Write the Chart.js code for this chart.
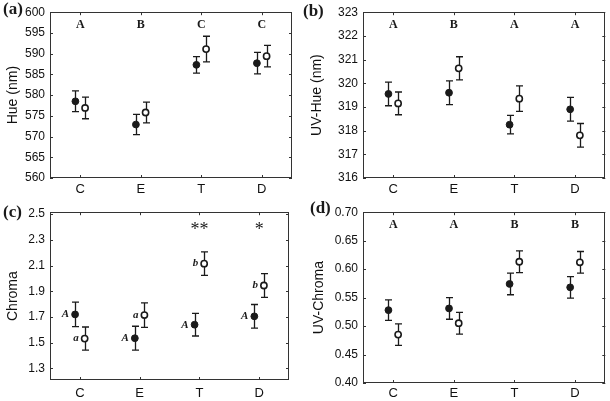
<!DOCTYPE html>
<html>
<head>
<meta charset="utf-8">
<script src="https://cdn.jsdelivr.net/npm/chart.js@4.4.0/dist/chart.umd.min.js"></script>
<style>
  html, body { margin: 0; padding: 0; background: #fff; }
  #wrap { position: relative; width: 610px; height: 401px; overflow: hidden; }
  canvas { position: absolute; }
</style>
</head>
<body>
<div id="wrap">
  <canvas id="chartA" width="305" height="200" style="left:0;top:0"></canvas>
  <canvas id="chartB" width="310" height="200" style="left:300px;top:0"></canvas>
  <canvas id="chartC" width="305" height="201" style="left:0;top:200px"></canvas>
  <canvas id="chartD" width="310" height="201" style="left:300px;top:200px"></canvas>
</div>
<script>
// --- Data ---
const groups = ['C', 'E', 'T', 'D'];

// (a) Hue
const hueFilled = [578.5, 572.9, 587.3, 587.7];
const hueFilledErr = [2.5, 2.45, 2.0, 2.6];
const hueOpen = [576.9, 575.8, 591.1, 589.4];
const hueOpenErr = [2.6, 2.5, 3.1, 2.6];
const hueLetters = ['A', 'B', 'C', 'C'];
const hueTicks = [560, 565, 570, 575, 580, 585, 590, 595, 600];

// (b) UV-Hue
const uvHueFilled = [319.55, 319.6, 318.25, 318.9];
const uvHueFilledErr = [0.5, 0.5, 0.39, 0.5];
const uvHueOpen = [319.15, 320.63, 319.35, 317.8];
const uvHueOpenErr = [0.48, 0.49, 0.54, 0.5];
const uvHueLetters = ['A', 'B', 'A', 'A'];
const uvHueTicks = [316, 317, 318, 319, 320, 321, 322, 323];

// (c) Chroma
const chromaFilled = [1.72, 1.535, 1.64, 1.705];
const chromaFilledErr = [0.095, 0.093, 0.088, 0.092];
const chromaOpen = [1.532, 1.715, 2.115, 1.945];
const chromaOpenErr = [0.09, 0.095, 0.092, 0.092];
const chromaFilledTags = ['A', 'A', 'A', 'A'];
const chromaOpenTags = ['a', 'a', 'b', 'b'];
const chromaStars = ['', '', '**', '*'];
const chromaTicks = [1.3, 1.5, 1.7, 1.9, 2.1, 2.3, 2.5];

// (d) UV-Chroma
const uvChromaFilled = [0.528, 0.531, 0.574, 0.568];
const uvChromaFilledErr = [0.018, 0.019, 0.019, 0.019];
const uvChromaOpen = [0.485, 0.505, 0.613, 0.612];
const uvChromaOpenErr = [0.019, 0.019, 0.019, 0.019];
const uvChromaLetters = ['A', 'A', 'B', 'B'];
const uvChromaTicks = [0.40, 0.45, 0.50, 0.55, 0.60, 0.65, 0.70];

Chart.defaults.font.family = '"Liberation Sans", Arial, sans-serif';
Chart.defaults.color = '#111';

const INK = '#1a1a1a';
const SHIFT = 0.08;

// --- Plugin: frame, inner ticks, error bars, annotations ---
const panelDecor = {
  id: 'panelDecor',
  beforeDatasetsDraw(chart) {
    const { ctx, chartArea: a, scales: { x, y } } = chart;
    ctx.save();
    ctx.strokeStyle = '#333';
    ctx.lineWidth = 1;
    ctx.strokeRect(Math.round(a.left) + 0.5, Math.round(a.top) + 0.5,
      Math.round(a.right - a.left) - 1, Math.round(a.bottom - a.top) - 1);
    ctx.beginPath();
    y.ticks.forEach(t => {
      const py = Math.round(y.getPixelForValue(t.value)) + 0.5;
      ctx.moveTo(a.left, py); ctx.lineTo(a.left + 3, py);
      ctx.moveTo(a.right - 3, py); ctx.lineTo(a.right, py);
    });
    x.ticks.forEach(t => {
      const px = Math.round(x.getPixelForValue(t.value)) + 0.5;
      ctx.moveTo(px, a.bottom); ctx.lineTo(px, a.bottom - 3);
      ctx.moveTo(px, a.top); ctx.lineTo(px, a.top + 3);
    });
    ctx.stroke();

    // error bars
    ctx.strokeStyle = INK;
    ctx.lineWidth = 1.3;
    chart.data.datasets.forEach(ds => {
      ds.data.forEach((pt, i) => {
        const e = ds.errors[i];
        const px = Math.round(x.getPixelForValue(pt.x)) + 0.5;
        const hi = y.getPixelForValue(pt.y + e);
        const lo = y.getPixelForValue(pt.y - e);
        ctx.beginPath();
        ctx.moveTo(px, hi); ctx.lineTo(px, lo);
        ctx.moveTo(px - 3.5, hi); ctx.lineTo(px + 3.5, hi);
        ctx.moveTo(px - 3.5, lo); ctx.lineTo(px + 3.5, lo);
        ctx.stroke();
      });
    });
    ctx.restore();
  },
  afterDatasetsDraw(chart, args, opts) {
    const { ctx, chartArea: a, scales: { x, y } } = chart;
    ctx.save();
    ctx.fillStyle = INK;
    ctx.textBaseline = 'middle';

    // panel tag
    ctx.font = 'bold 17px "Liberation Serif", "Times New Roman", serif';
    ctx.textAlign = 'left';
    ctx.fillText(opts.tag, opts.tagX, opts.tagY);

    // group letters above
    if (opts.letters) {
      ctx.font = 'bold 12px "Liberation Serif", "Times New Roman", serif';
      ctx.textAlign = 'center';
      opts.letters.forEach((l, i) => ctx.fillText(l, x.getPixelForValue(i), a.top + 13));
    }
    if (opts.stars) {
      ctx.font = '18px "Liberation Serif", "Times New Roman", serif';
      ctx.textAlign = 'center';
      opts.stars.forEach((s, i) => ctx.fillText(s, x.getPixelForValue(i), a.top + 18));
    }
    // italic tags next to points
    if (opts.pointTags) {
      ctx.font = 'bold italic 11px "Liberation Serif", "Times New Roman", serif';
      ctx.textAlign = 'right';
      opts.pointTags.forEach((tags, d) => {
        chart.data.datasets[d].data.forEach((pt, i) => {
          ctx.fillText(tags[i], x.getPixelForValue(pt.x) - 6, y.getPixelForValue(pt.y));
        });
      });
    }
    ctx.restore();
  }
};

function makePanel(id, p) {
  const filledPts = p.filled.map((v, i) => ({ x: i - SHIFT, y: v }));
  const openPts = p.open.map((v, i) => ({ x: i + SHIFT, y: v }));
  return new Chart(document.getElementById(id), {
    type: 'scatter',
    data: {
      datasets: [
        { data: filledPts, errors: p.filledErr, pointRadius: 3.4, pointHoverRadius: 3.4,
          backgroundColor: INK, borderColor: INK, borderWidth: 1 },
        { data: openPts, errors: p.openErr, pointRadius: 3.1, pointHoverRadius: 3.1,
          backgroundColor: '#fff', borderColor: INK, borderWidth: 1.6 }
      ]
    },
    options: {
      responsive: false,
      animation: false,
      events: [],
      layout: { padding: { left: 0, top: p.area.top, right: p.area.right, bottom: 0 } },
      plugins: {
        legend: { display: false },
        tooltip: { enabled: false },
        panelDecor: p.decor
      },
      scales: {
        x: {
          type: 'linear', min: -0.5, max: 3.5,
          grid: { display: false, drawTicks: false },
          border: { display: false },
          afterBuildTicks: s => { s.ticks = groups.map((g, i) => ({ value: i })); },
          afterFit: s => { s.height = p.area.bottom; },
          ticks: { padding: p.xPad, font: { size: 13 }, color: '#111',
                   callback: v => groups[v] }
        },
        y: {
          min: p.min, max: p.max,
          grid: { display: false, drawTicks: false },
          border: { display: false },
          afterBuildTicks: s => { s.ticks = p.ticks.map(v => ({ value: v })); },
          afterFit: s => { s.width = p.area.left; },
          ticks: { padding: 5, font: { size: 12 }, color: '#111', callback: p.fmt },
          title: { display: true, text: p.title, font: { size: 14 }, color: '#111',
                   padding: { top: p.titlePad, bottom: 0 } }
        }
      }
    },
    plugins: [panelDecor]
  });
}

makePanel('chartA', {
  filled: hueFilled, filledErr: hueFilledErr, open: hueOpen, openErr: hueOpenErr,
  min: 560, max: 600, ticks: hueTicks, fmt: v => String(v), title: 'Hue (nm)',
  area: { left: 50, right: 13, top: 10, bottom: 22 }, xPad: 4, titlePad: 5,
  decor: { tag: '(a)', tagX: 3, tagY: 10, letters: hueLetters }
});

makePanel('chartB', {
  filled: uvHueFilled, filledErr: uvHueFilledErr, open: uvHueOpen, openErr: uvHueOpenErr,
  min: 316, max: 323, ticks: uvHueTicks, fmt: v => String(v), title: 'UV-Hue (nm)',
  area: { left: 63, right: 4, top: 11, bottom: 22 }, xPad: 4, titlePad: 9,
  decor: { tag: '(b)', tagX: 3, tagY: 12, letters: uvHueLetters }
});

makePanel('chartC', {
  filled: chromaFilled, filledErr: chromaFilledErr, open: chromaOpen, openErr: chromaOpenErr,
  min: 1.21, max: 2.515, ticks: chromaTicks, fmt: v => v.toFixed(1), title: 'Chroma',
  area: { left: 50, right: 16, top: 8, bottom: 21 }, xPad: 6, titlePad: 5,
  decor: { tag: '(c)', tagX: 3, tagY: 13, stars: chromaStars,
           pointTags: [chromaFilledTags, chromaOpenTags] }
});

makePanel('chartD', {
  filled: uvChromaFilled, filledErr: uvChromaFilledErr, open: uvChromaOpen, openErr: uvChromaOpenErr,
  min: 0.40, max: 0.70, ticks: uvChromaTicks, fmt: v => v.toFixed(2), title: 'UV-Chroma',
  area: { left: 63, right: 4, top: 7, bottom: 18 }, xPad: 3, titlePad: 11,
  decor: { tag: '(d)', tagX: 10, tagY: 9, letters: uvChromaLetters }
});
</script>
</body>
</html>
